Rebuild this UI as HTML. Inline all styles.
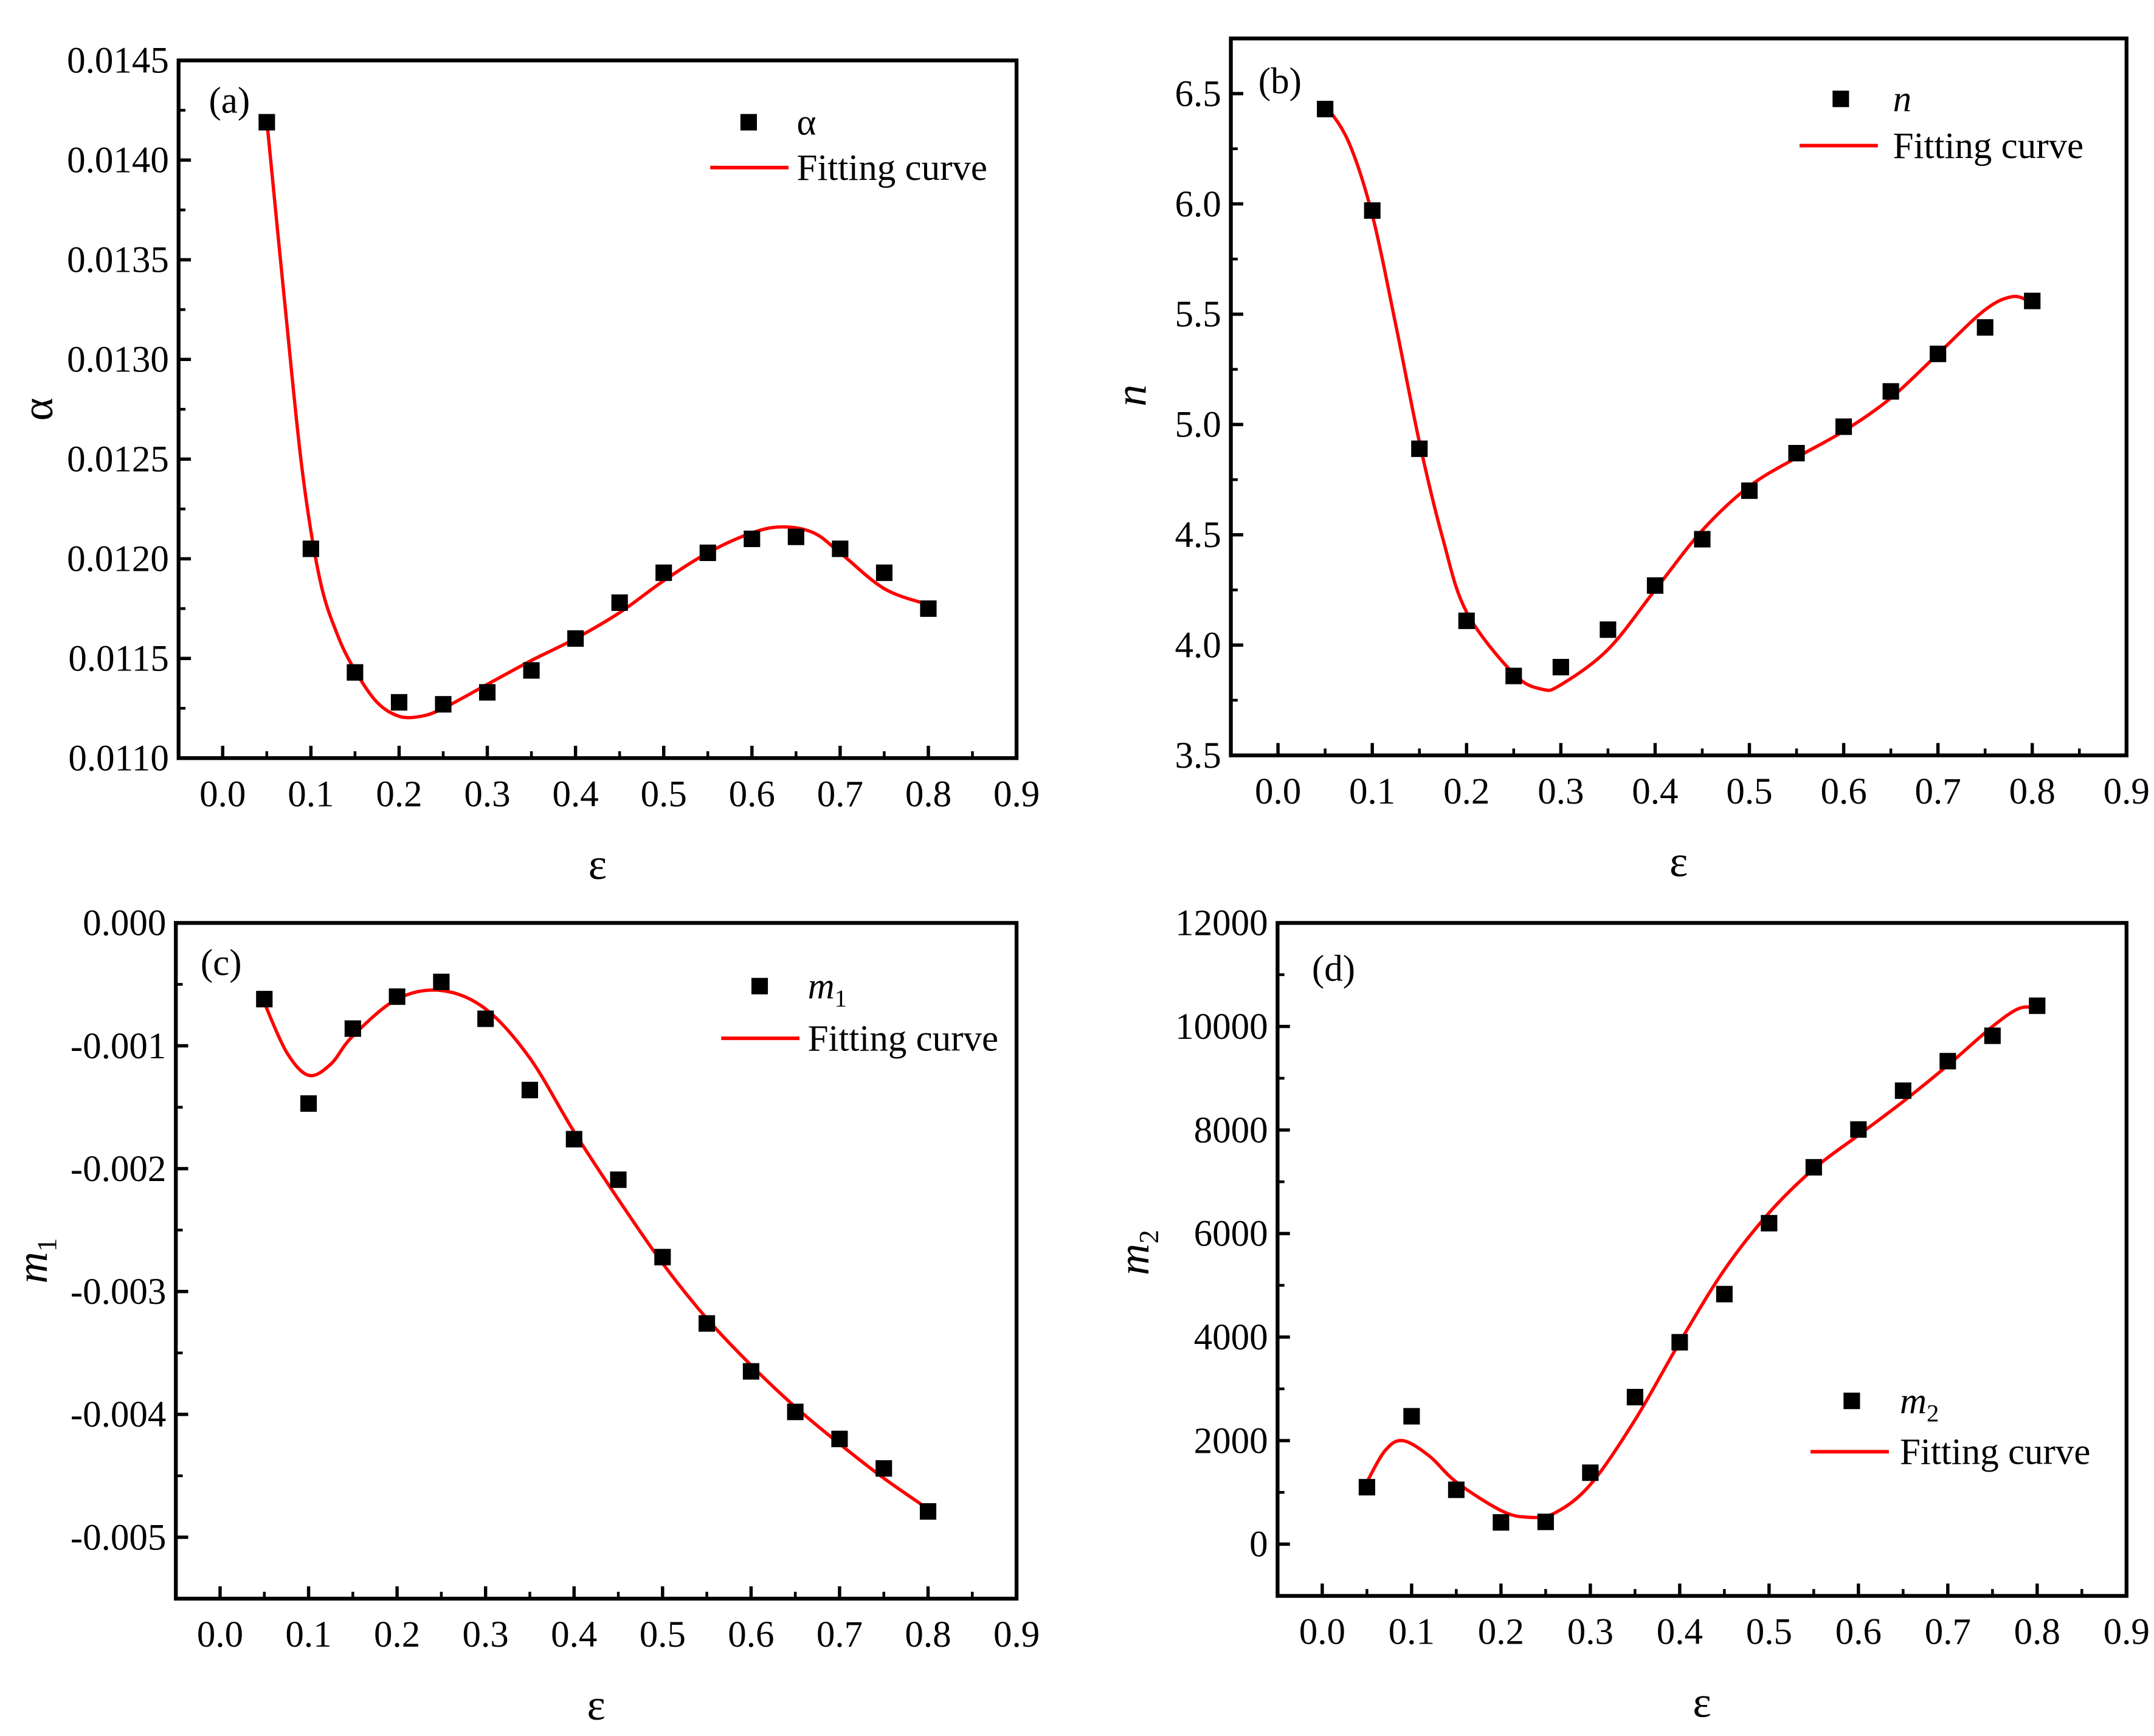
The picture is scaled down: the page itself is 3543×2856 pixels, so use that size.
<!DOCTYPE html>
<html><head><meta charset="utf-8"><style>
html,body{margin:0;padding:0;background:#fff;}
svg{display:block;}
svg text{font-family:"Liberation Serif","Times New Roman",serif !important;fill:#000;}
</style></head>
<body>
<svg id="fig" width="3543" height="2856" viewBox="0 0 1568 1264" preserveAspectRatio="none" font-family="Liberation Serif, serif" xmlns="http://www.w3.org/2000/svg"></svg>
<script>
const xPts = [0.05,0.1,0.15,0.2,0.25,0.3,0.35,0.4,0.45,0.5,0.55,0.6,0.65,0.7,0.75,0.8];
const xTicks = [0,0.1,0.2,0.3,0.4,0.5,0.6,0.7,0.8,0.9];
const xTickLabels = ["0.0","0.1","0.2","0.3","0.4","0.5","0.6","0.7","0.8","0.9"];

const alphaVals = [0.01419,0.01205,0.01143,0.01128,0.01127,0.01133,0.01144,0.01160,0.01178,0.01193,0.01203,0.01210,0.01211,0.01205,0.01193,0.01175];
const alphaFitX = [0.05,0.07,0.09,0.11,0.13,0.15,0.175,0.2,0.225,0.25,0.3,0.35,0.4,0.45,0.5,0.55,0.6,0.635,0.67,0.7,0.75,0.8];
const alphaFitY = [0.01420,0.01330,0.01245,0.01190,0.01162,0.01144,0.01128,0.01121,0.01121,0.01125,0.01137,0.01149,0.01160,0.01173,0.01189,0.01203,0.01213,0.01216,0.01213,0.01203,0.01185,0.01177];
const alphaTicks = [0.0110,0.0115,0.0120,0.0125,0.0130,0.0135,0.0140,0.0145];
const alphaTickLabels = ["0.0110","0.0115","0.0120","0.0125","0.0130","0.0135","0.0140","0.0145"];

const nVals = [6.43,5.97,4.89,4.11,3.86,3.90,4.07,4.27,4.48,4.70,4.87,4.99,5.15,5.32,5.44,5.56];
const nFitX = [0.05,0.075,0.1,0.125,0.15,0.175,0.2,0.25,0.28,0.3,0.35,0.4,0.45,0.5,0.55,0.6,0.65,0.7,0.75,0.78,0.8];
const nFitY = [6.45,6.28,5.95,5.45,4.92,4.48,4.15,3.87,3.80,3.82,3.98,4.25,4.52,4.72,4.85,4.97,5.12,5.32,5.52,5.58,5.55];
const nTicks = [3.5,4.0,4.5,5.0,5.5,6.0,6.5];
const nTickLabels = ["3.5","4.0","4.5","5.0","5.5","6.0","6.5"];

const m1Vals = [-0.00062,-0.00147,-0.00086,-0.00060,-0.00048,-0.00078,-0.00136,-0.00176,-0.00209,-0.00272,-0.00326,-0.00365,-0.00398,-0.00420,-0.00444,-0.00479];
const m1FitX = [0.05,0.075,0.1,0.125,0.15,0.2,0.25,0.3,0.35,0.4,0.45,0.5,0.55,0.6,0.65,0.7,0.75,0.8];
const m1FitY = [-0.00065,-0.00105,-0.00124,-0.00115,-0.00092,-0.00062,-0.00055,-0.00070,-0.00110,-0.00170,-0.00225,-0.00277,-0.00322,-0.00360,-0.00394,-0.00424,-0.00452,-0.00477];
const m1Ticks = [0,-0.001,-0.002,-0.003,-0.004,-0.005];
const m1TickLabels = ["0.000","-0.001","-0.002","-0.003","-0.004","-0.005"];

const m2Vals = [1100,2470,1050,420,430,1380,2840,3900,4830,6200,7280,8010,8760,9330,9820,10400];
const m2FitX = [0.05,0.07,0.09,0.12,0.15,0.2,0.23,0.26,0.3,0.35,0.4,0.45,0.5,0.55,0.6,0.65,0.7,0.75,0.78,0.8];
const m2FitY = [1200,1800,2000,1700,1200,650,520,600,1150,2400,3900,5300,6400,7250,7900,8550,9250,10000,10350,10350];
const m2Ticks = [0,2000,4000,6000,8000,10000,12000];
const m2TickLabels = ["0","2000","4000","6000","8000","10000","12000"];

const NS="http://www.w3.org/2000/svg";
const svg=document.getElementById('fig');
function mk(tag,attrs,parent){const e=document.createElementNS(NS,tag);for(const k in attrs)e.setAttribute(k,attrs[k]);(parent||svg).appendChild(e);return e;}

function smoothPath(pts){
  let d="M"+pts[0][0]+","+pts[0][1];
  for(let i=0;i<pts.length-1;i++){
    const p0=pts[i-1]||pts[i],p1=pts[i],p2=pts[i+1],p3=pts[i+2]||p2;
    const c1=[p1[0]+(p2[0]-p0[0])/6,p1[1]+(p2[1]-p0[1])/6];
    const c2=[p2[0]-(p3[0]-p1[0])/6,p2[1]-(p3[1]-p1[1])/6];
    d+=" C"+c1[0]+","+c1[1]+" "+c2[0]+","+c2[1]+" "+p2[0]+","+p2[1];
  }
  return d;
}
const FS=27;
function panel(cfg){
  const g=mk('g',{});
  
  
  const L=cfg.box[0],T=cfg.box[1],R=cfg.box[2],B=cfg.box[3];
  const xs=v=>L+(v-(-0.05))/(0.95)*(R-L);
  const ys=v=>B-(v-cfg.ymin)/(cfg.ymax-cfg.ymin)*(B-T);
  xTicks.forEach((t,i)=>{
    const x=xs(t);
    const tk=mk('line',{x1:x,x2:x,y1:B,y2:B-9,stroke:'#000','stroke-width':2.4},g);
    
    
    if(i<xTicks.length-1){const xm=xs(t+0.05);
      const mt=mk('line',{x1:xm,x2:xm,y1:B,y2:B-5,stroke:'#000','stroke-width':2},g);
      
      }
    const lb=mk('text',{x:x,y:B+35,'text-anchor':'middle','font-size':FS},g);
    lb.textContent=xTickLabels[i];
    
    
  });
  const step=cfg.yt[1]-cfg.yt[0];
  cfg.yt.forEach((t,i)=>{
    const y=ys(t);
    const tk=mk('line',{x1:L,x2:L+9,y1:y,y2:y,stroke:'#000','stroke-width':2.4},g);
    
    
    const ym=ys(t+step/2);
    if(ym>T+2&&ym<B-2){const mt=mk('line',{x1:L,x2:L+5,y1:ym,y2:ym,stroke:'#000','stroke-width':2},g);
      
      }
    const ym2=ys(t-step/2);
    if(i==0&&ym2>T+2&&ym2<B-2){const mt2=mk('line',{x1:L,x2:L+5,y1:ym2,y2:ym2,stroke:'#000','stroke-width':2},g);
      
      }
    const lb=mk('text',{x:L-7,y:y+9,'text-anchor':'end','font-size':FS},g);
    lb.textContent=cfg.ytl[i];
    
    
  });
  const box=mk('rect',{x:L,y:T,width:R-L,height:B-T,fill:'none',stroke:'#000','stroke-width':2.8},g);
  
  
  const pts=cfg.fx.map((x,i)=>[xs(x),ys(cfg.fy[i])]);
  const cv=mk('path',{d:smoothPath(pts),fill:'none',stroke:'#ff0000','stroke-width':2.4},g);
  
  
  xPts.forEach((x,i)=>{
    const r=mk('rect',{x:xs(x)-6,y:ys(cfg.vals[i])-6,width:12,height:12,fill:'#000'},g);
    
    
  });
  const pl=mk('text',{x:cfg.tag[0],y:cfg.tag[1],'font-size':FS},g);
  pl.textContent=cfg.tagText;
  
  
  const xl=mk('text',{x:(L+R)/2,y:B+88,'text-anchor':'middle','font-size':32},g);
  xl.textContent='ε';
  
  
  const yl=mk('text',{x:0,y:0,'text-anchor':'middle','font-size':32,transform:'translate('+cfg.ylab[0]+','+cfg.ylab[1]+') rotate(-90)'},g);
  yl.innerHTML=cfg.ylabHtml;
  
  
  const lg=cfg.leg;
  const ls=mk('rect',{x:lg[0]-6,y:lg[1]-6,width:12,height:12,fill:'#000'},g);
  
  
  const lt=mk('text',{x:lg[2],y:lg[1]+9,'font-size':FS},g);
  lt.innerHTML=cfg.legHtml;
  
  
  const ll=mk('line',{x1:lg[3],x2:lg[3]+57,y1:lg[4],y2:lg[4],stroke:'#ff0000','stroke-width':2.6},g);
  
  
  const lt2=mk('text',{x:lg[2],y:lg[4]+9,'font-size':FS},g);
  lt2.textContent='Fitting curve';
  
  
}

panel({name:'panel-a',box:[130,44,740,552],ymin:0.011,ymax:0.0145,yt:alphaTicks,ytl:alphaTickLabels,vals:alphaVals,fx:alphaFitX,fy:alphaFitY,
  tag:[152,82],tagText:'(a)',ylab:[38,298],ylabHtml:'α',leg:[545,89,580,517,122],legHtml:'α'});
panel({name:'panel-b',box:[896,28,1548,550],ymin:3.5,ymax:6.75,yt:nTicks,ytl:nTickLabels,vals:nVals,fx:nFitX,fy:nFitY,
  tag:[916,68],tagText:'(b)',ylab:[834,288],ylabHtml:'<tspan font-style="italic">n</tspan>',leg:[1340,72,1378,1310,106],legHtml:'<tspan font-style="italic">n</tspan>'});
panel({name:'panel-c',box:[128,672,740,1164],ymin:-0.0055,ymax:0,yt:m1Ticks,ytl:m1TickLabels,vals:m1Vals,fx:m1FitX,fy:m1FitY,
  tag:[146,710],tagText:'(c)',ylab:[34,918],ylabHtml:'<tspan font-style="italic">m</tspan><tspan font-size="20" dy="7">1</tspan>',leg:[553,718,588,525,756],legHtml:'<tspan font-style="italic">m</tspan><tspan font-size="18" dy="6">1</tspan>'});
panel({name:'panel-d',box:[930,672,1548,1162],ymin:-1000,ymax:12000,yt:m2Ticks,ytl:m2TickLabels,vals:m2Vals,fx:m2FitX,fy:m2FitY,
  tag:[955,714],tagText:'(d)',ylab:[836,912],ylabHtml:'<tspan font-style="italic">m</tspan><tspan font-size="20" dy="7">2</tspan>',leg:[1348,1020,1383,1318,1057],legHtml:'<tspan font-style="italic">m</tspan><tspan font-size="18" dy="6">2</tspan>'});
</script>
</body></html>
